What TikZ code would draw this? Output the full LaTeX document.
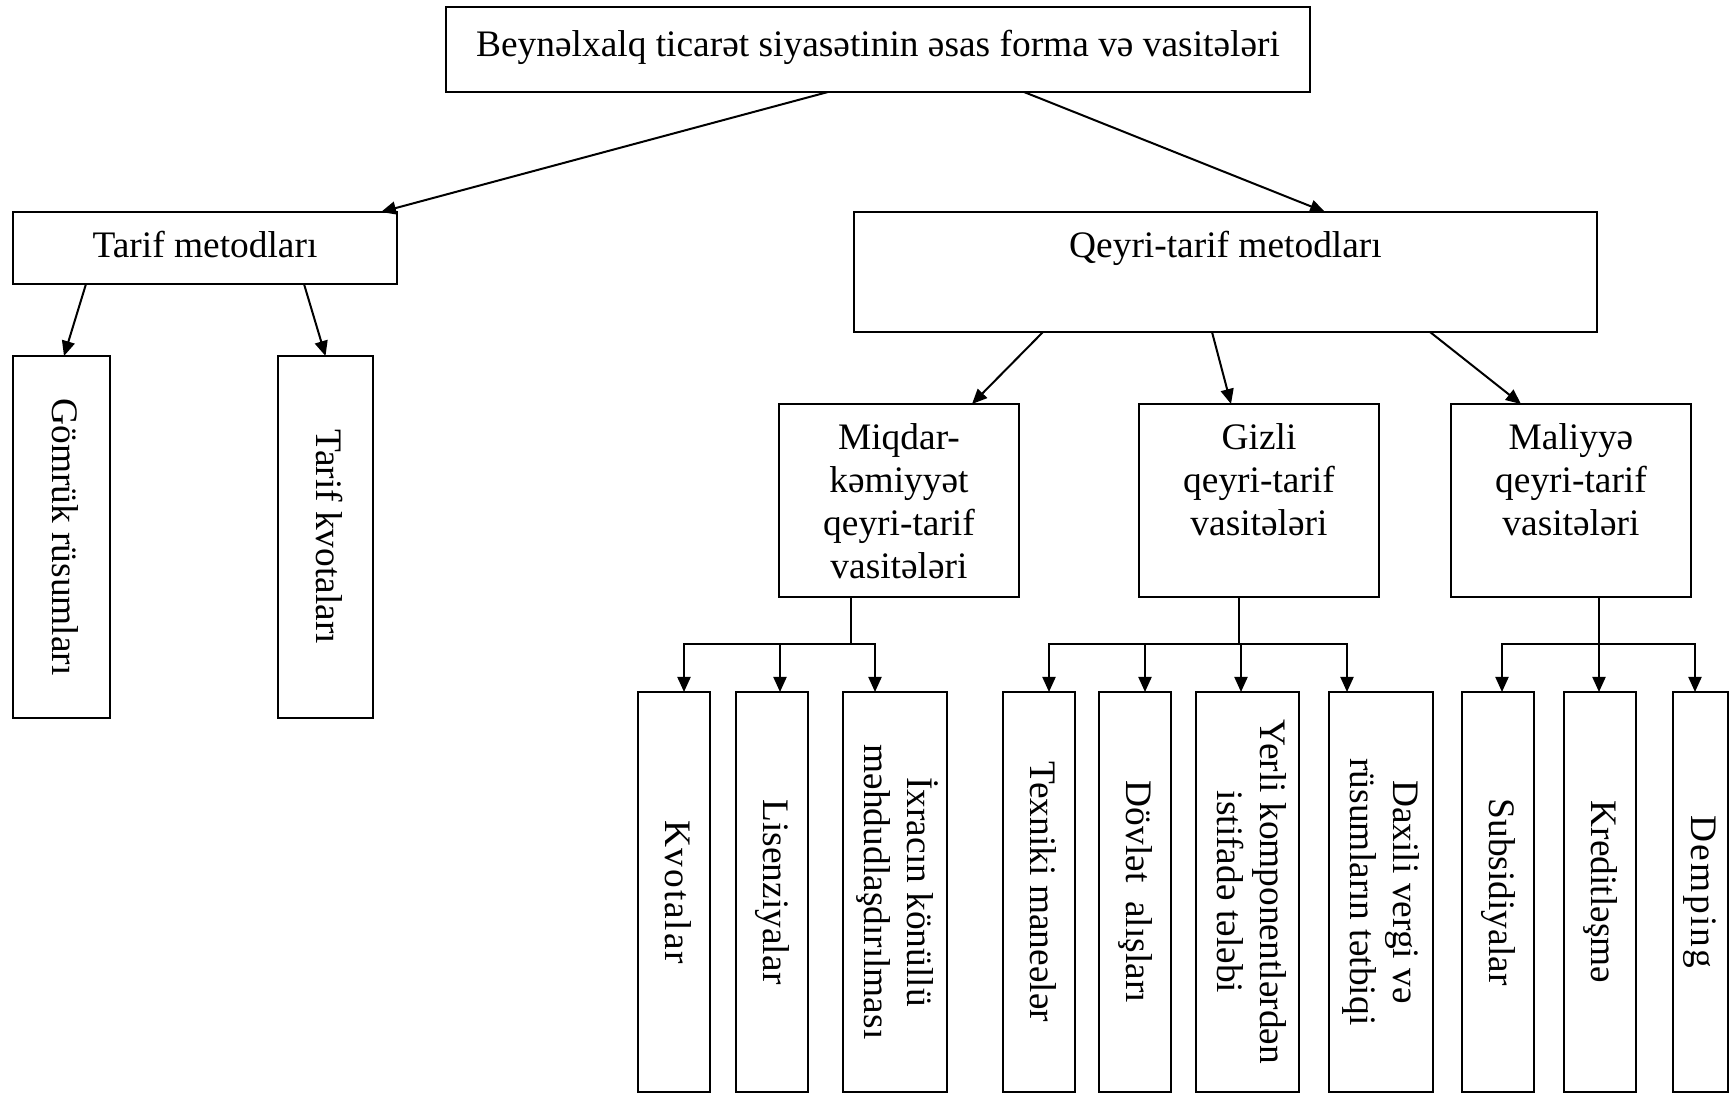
\documentclass[tikz,border=0pt]{standalone}
\usepackage{fontspec}
\setmainfont{Liberation Serif}
\usetikzlibrary{arrows.meta}
% stacked lines, baseline on the first line
\newcommand\lines[1]{\begin{tabular}[t]{@{}c@{}}#1\end{tabular}}
% text set sideways, read from top to bottom
\newcommand\sidetext[1]{\rotatebox{-90}{\begin{tabular}{@{}c@{}}#1\end{tabular}}}
\begin{document}
\begin{tikzpicture}[x=0.5pt,y=-0.5pt,
  box/.style={draw, line width=0.8pt, rectangle, inner sep=0pt, outer sep=0pt,
    font=\fontsize{18.7}{21.5}\selectfont},
  midbox/.style={box, anchor=north, minimum width=120pt, text height=23pt, text depth=73.5pt},
  sidebox/.style={box, minimum height=181pt},
  leafbox/.style={box, minimum height=200pt},
  tracked/.style={font=\fontsize{18.7}{21.5}\selectfont\addfontfeature{LetterSpace=#1}},
  arr/.style={line width=1pt, -{Triangle[length=7.5pt,width=6.5pt]}},
  stem/.style={line width=0.6pt},
]
\useasboundingbox (0,0) rectangle (1731,1096);

% top level
\node[box, anchor=north, minimum width=432pt, text height=24.9pt, text depth=17.6pt]
  (top) at (878,7) {Beynəlxalq ticarət siyasətinin əsas forma və vasitələri};

% second level
\node[box, anchor=north, minimum width=192pt, text height=23pt, text depth=13pt]
  (tarif) at (205,212) {Tarif metodları};
\node[box, anchor=north, minimum width=371.5pt, text height=23pt, text depth=37pt]
  (qeyri) at (1225.5,212) {Qeyri-tarif metodları};

% tariff instruments
\node[sidebox, minimum width=48.5pt] (gomruk) at (61.5,537) {\sidetext{Gömrük rüsumları}};
\node[sidebox, minimum width=47.5pt] (kvota) at (325.5,537) {\sidetext{Tarif kvotaları}};

% non-tariff groups
\node[midbox] (miqdar) at (899,404) {\lines{Miqdar-\\kəmiyyət\\qeyri-tarif\\vasitələri}};
\node[midbox] (gizli) at (1259,404) {\lines{Gizli\\qeyri-tarif\\vasitələri}};
\node[midbox] (maliyye) at (1571,404) {\lines{Maliyyə\\qeyri-tarif\\vasitələri}};

% leaves
\node[leafbox, minimum width=36pt, tracked=5] (kvotalar) at (674,892) {\sidetext{Kvotalar}};
\node[leafbox, minimum width=36pt] (lisenz) at (772,892) {\sidetext{Lisenziyalar}};
\node[leafbox, minimum width=52pt] (ixrac) at (895,892) {\sidetext{İxracın könüllü\\məhdudlaşdırılması}};
\node[leafbox, minimum width=36pt] (texniki) at (1039,892) {\sidetext{Texniki maneələr}};
\node[leafbox, minimum width=36pt] (dovlet) at (1135,892) {\sidetext{Dövlət~~alışları}};
\node[leafbox, minimum width=51.5pt] (yerli) at (1247.5,892) {\sidetext{Yerli komponentlərdən\\istifadə tələbi}};
\node[leafbox, minimum width=52pt] (daxili) at (1381,892) {\sidetext{Daxili vergi və\\rüsumların tətbiqi}};
\node[leafbox, minimum width=36pt] (subs) at (1498,892) {\sidetext{Subsidiyalar}};
\node[leafbox, minimum width=36pt] (kredit) at (1600,892) {\sidetext{Kreditləşmə}};
\node[leafbox, minimum width=27.5pt, tracked=6] (demping) at (1700.5,892) {\sidetext{Demping}};

% connectors from the top
\draw[arr] ([xshift=-25pt]top.south) -- ([xshift=88pt]tarif.north);
\draw[arr] ([xshift=73pt]top.south) -- ([xshift=49.75pt]qeyri.north);

\draw[arr] ([xshift=-59.5pt]tarif.south) -- ([xshift=1.25pt]gomruk.north);
\draw[arr] ([xshift=49.5pt]tarif.south) -- (kvota.north);

\draw[arr] ([xshift=-91.25pt]qeyri.south) -- ([xshift=36.5pt]miqdar.north);
\draw[arr] ([xshift=-6.75pt]qeyri.south) -- ([xshift=-14pt]gizli.north);
\draw[arr] ([xshift=102.25pt]qeyri.south) -- ([xshift=-25pt]maliyye.north);

% branching buses
\coordinate (busA) at (851,644);
\coordinate (busB) at (1239,644);
\coordinate (busC) at (1599,644);

\draw[stem] ([xshift=-24pt]miqdar.south) -- (busA);
\draw[arr] (busA) -| ([xshift=5pt]kvotalar.north);
\draw[arr] (busA) -| ([xshift=4pt]lisenz.north);
\draw[arr] (busA) -| ([xshift=-10pt]ixrac.north);

\draw[stem] ([xshift=-10pt]gizli.south) -- (busB);
\draw[arr] (busB) -| ([xshift=5pt]texniki.north);
\draw[arr] (busB) -| ([xshift=5pt]dovlet.north);
\draw[arr] (busB) -| ([xshift=-3.25pt]yerli.north);
\draw[arr] (busB) -| ([xshift=-17pt]daxili.north);

\draw[stem] ([xshift=14pt]maliyye.south) -- (busC);
\draw[arr] (busC) -| ([xshift=2pt]subs.north);
\draw[arr] (busC) -| ([xshift=-0.5pt]kredit.north);
\draw[arr] (busC) -| ([xshift=-2.75pt]demping.north);
\end{tikzpicture}
\end{document}
